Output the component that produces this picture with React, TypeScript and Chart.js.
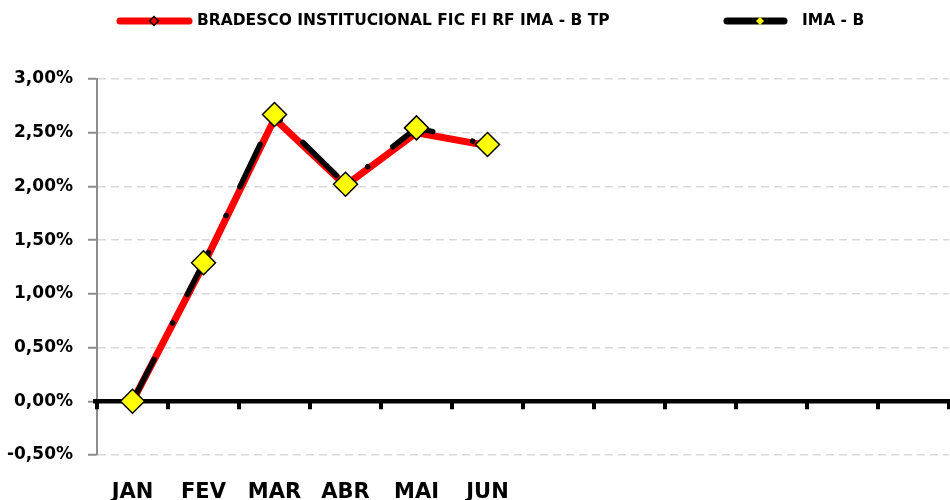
import React, { useEffect, useRef } from 'react';
import { Chart, registerables } from 'chart.js';

Chart.register(...registerables);

const MONTHS = ['JAN', 'FEV', 'MAR', 'ABR', 'MAI', 'JUN', '', '', '', '', '', ''];
const BRADESCO = [0, 1.27, 2.63, 2.01, 2.5, 2.38, null, null, null, null, null, null];
const IMAB = [0, 1.29, 2.67, 2.02, 2.545, 2.39, null, null, null, null, null, null];
const SERIES_NAMES = ['BRADESCO INSTITUCIONAL FIC FI RF IMA - B TP', 'IMA - B'];
const Y_MIN = -0.5;
const Y_MAX = 3;
const Y_STEP = 0.5;

const FONT = '"DejaVu Sans", sans-serif';

function diamond(ctx: CanvasRenderingContext2D, cx: number, cy: number, r: number, fill: string, stroke: string | null, lw: number) {
  ctx.beginPath();
  ctx.moveTo(cx, cy - r);
  ctx.lineTo(cx + r, cy);
  ctx.lineTo(cx, cy + r);
  ctx.lineTo(cx - r, cy);
  ctx.closePath();
  ctx.fillStyle = fill;
  ctx.fill();
  if (stroke) {
    ctx.strokeStyle = stroke;
    ctx.lineWidth = lw;
    ctx.stroke();
  }
}

const zeroAxisPlugin = {
  id: 'zeroAxis',
  beforeDatasetsDraw(chart: any) {
    const { ctx, chartArea, scales } = chart;
    const y0 = scales.y.getPixelForValue(0);
    const n = MONTHS.length;
    const w = chartArea.right - chartArea.left;
    ctx.save();
    ctx.strokeStyle = '#000';
    ctx.lineWidth = 4.5;
    ctx.beginPath();
    ctx.moveTo(chartArea.left - 4, y0);
    ctx.lineTo(chartArea.right + 2, y0);
    ctx.stroke();
    ctx.lineWidth = 4;
    ctx.beginPath();
    for (let i = 0; i <= n; i++) {
      const px = chartArea.left + (i * w) / n;
      ctx.moveTo(px, y0);
      ctx.lineTo(px, y0 + 8);
    }
    ctx.stroke();
    ctx.restore();
  },
};

const legendPlugin = {
  id: 'customLegend',
  afterDraw(chart: any) {
    const ctx: CanvasRenderingContext2D = chart.ctx;
    const y = 21;
    ctx.save();
    ctx.lineCap = 'round';
    // series 1
    ctx.strokeStyle = '#ff0000';
    ctx.lineWidth = 7;
    ctx.beginPath();
    ctx.moveTo(120, y);
    ctx.lineTo(189, y);
    ctx.stroke();
    diamond(ctx, 154, y, 4.5, '#ff0000', '#000', 1.5);
    // series 2
    ctx.strokeStyle = '#000';
    ctx.lineWidth = 7;
    ctx.beginPath();
    ctx.moveTo(727, y);
    ctx.lineTo(784, y);
    ctx.stroke();
    diamond(ctx, 760, y, 4, '#ffff00', null, 0);
    ctx.fillStyle = '#000';
    ctx.font = `bold 15.5px ${FONT}`;
    ctx.textBaseline = 'middle';
    ctx.textAlign = 'left';
    ctx.fillText(SERIES_NAMES[0], 197, y);
    ctx.fillText(SERIES_NAMES[1], 802, y);
    ctx.restore();
  },
};

export default function App() {
  const ref = useRef<HTMLCanvasElement | null>(null);

  useEffect(() => {
    if (!ref.current) return;
    const chart = new Chart(ref.current, {
      type: 'line',
      data: {
        labels: MONTHS,
        datasets: [
          {
            label: SERIES_NAMES[1],
            data: IMAB,
            borderColor: '#000000',
            borderWidth: 5.5,
            borderDash: [47, 41, 0.01, 32],
            borderCapStyle: 'round',
            borderJoinStyle: 'round',
            tension: 0,
            pointStyle: 'rectRot',
            pointRadius: 12,
            pointHoverRadius: 12,
            pointBackgroundColor: '#ffff00',
            pointBorderColor: '#000000',
            pointBorderWidth: 1.5,
            fill: false,
            order: 0,
          },
          {
            label: SERIES_NAMES[0],
            data: BRADESCO,
            borderColor: '#ff0000',
            borderWidth: 7,
            borderCapStyle: 'round',
            borderJoinStyle: 'round',
            tension: 0,
            pointStyle: 'rectRot',
            pointRadius: 4.5,
            pointHoverRadius: 4.5,
            pointBackgroundColor: '#ff0000',
            pointBorderColor: '#000000',
            pointBorderWidth: 1.5,
            fill: false,
            order: 1,
          },
        ],
      },
      options: {
        responsive: false,
        animation: false,
        events: [],
        layout: { autoPadding: false, padding: { top: 79, right: 1, left: 0, bottom: 0 } },
        plugins: {
          legend: { display: false },
          tooltip: { enabled: false },
        },
        scales: {
          x: {
            type: 'category',
            offset: true,
            grid: { display: false, drawTicks: false },
            border: { display: false },
            ticks: {
              autoSkip: false,
              maxRotation: 0,
              padding: 25,
              color: '#000',
              font: { family: FONT, size: 21, weight: 'bold' },
            },
            afterFit: (s: any) => {
              s.height = 45;
              s.paddingLeft = 0;
              s.paddingRight = 0;
            },
          },
          y: {
            min: Y_MIN,
            max: Y_MAX,
            grid: {
              color: '#d9d9d9',
              lineWidth: 1.5,
              drawTicks: true,
              tickLength: 9,
              tickColor: '#8c8c8c',
              tickWidth: 2,
              tickBorderDash: [],
            },
            border: { display: true, color: '#8c8c8c', width: 2, dash: [8, 5] },
            ticks: {
              stepSize: Y_STEP,
              padding: 15,
              color: '#000',
              font: { family: FONT, size: 17, weight: 'bold' },
              callback: (v: any) => Number(v).toFixed(2).replace('.', ',') + '%',
            },
            afterFit: (s: any) => {
              s.width = 97;
            },
          },
        },
      },
      plugins: [zeroAxisPlugin, legendPlugin],
    } as any);
    return () => chart.destroy();
  }, []);

  return (
    <div style={{ position: 'absolute', left: 0, top: 0, width: 950, height: 500, background: '#fff' }}>
      <canvas ref={ref} width={950} height={500} style={{ display: 'block' }} />
    </div>
  );
}
